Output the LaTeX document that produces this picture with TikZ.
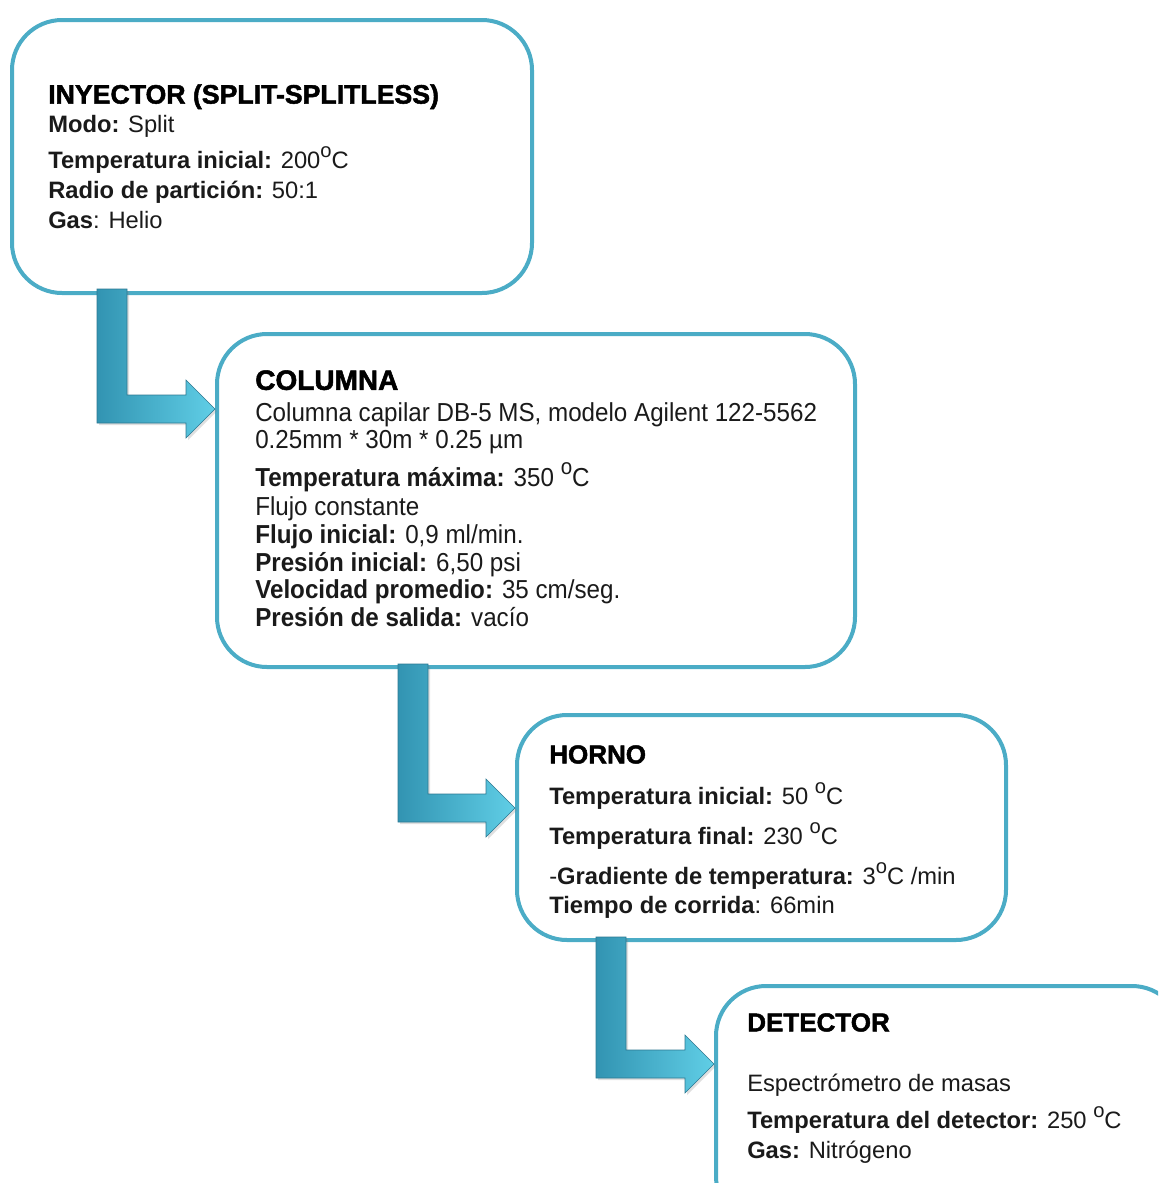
\documentclass[tikz,border=0pt]{standalone}
\usepackage{fontspec}
\setmainfont{Liberation Sans}
\newfontfamily\angosta[FakeStretch=0.93]{Liberation Sans}
\newfontfamily\titulo[FakeBold=1.8]{Liberation Sans Bold}
\usetikzlibrary{calc,shadows}
\definecolor{borde}{RGB}{75,172,198}
\definecolor{flechaosc}{RGB}{50,148,178}
\definecolor{flechacla}{RGB}{96,206,230}
\definecolor{flechalin}{RGB}{45,120,145}
\definecolor{tinta}{RGB}{26,26,26}
\newcommand{\grado}{\raisebox{0.47em}[0pt][0pt]{\scalebox{0.85}{o}}}

\begin{document}
\begin{tikzpicture}[x=0.75pt,y=0.75pt,yscale=-1,xscale=1,
  caja/.style={draw=borde,line width=3pt,rounded corners=37.5pt,fill=white,anchor=north west,inner sep=0pt},
  cabeza/.style={anchor=north west,inner sep=0pt,text=black,font=\titulo\fontsize{19.5}{23}\selectfont},
  cuerpo/.style={anchor=north west,inner sep=0pt,align=left,text=tinta},
  flecha/.style={left color=flechaosc,right color=flechacla,draw=flechalin,line width=0.4pt,
    drop shadow={shadow xshift=1.5pt,shadow yshift=-1.5pt,opacity=0.25}}]
\useasboundingbox (0,0) rectangle (1158,1183);
\clip (0,0) rectangle (1158,1183);

%Shape: Rounded Rectangle
\node[caja,minimum width=390pt,minimum height=204.75pt] (iny) at (10,18) {};
%Shape: Rounded Rectangle
\node[caja,minimum width=478.5pt,minimum height=249.75pt] (col) at (215,332) {};
%Shape: Rounded Rectangle
\node[caja,minimum width=366.75pt,minimum height=168.75pt] (hor) at (515,713) {};
%Shape: Rounded Rectangle
\node[caja,minimum width=349.5pt,minimum height=180pt] (det) at (714,984) {};

% Text Node
\node[cabeza,font=\titulo\fontsize{20}{24}\selectfont] (tiny) at ($(iny.north west)+(38,66)$) {INYECTOR (SPLIT-SPLITLESS)};
% Text Node
\node[cuerpo,font=\fontsize{17.8}{22.5}\selectfont] (biny) at ($(iny.north west)+(38,97)$) {\textbf{Modo:} Split\\[4.5pt]
\textbf{Temperatura inicial:} 200\grado C\\
\textbf{Radio de partición:} 50:1\\
\textbf{Gas}: Helio};

% Text Node
\node[cabeza,font=\titulo\fontsize{21}{25}\selectfont] (tcol) at ($(col.north west)+(40,38)$) {COLUMNA};
% Text Node
\node[cuerpo,font=\angosta\fontsize{19.5}{20.7}\selectfont] (bcol) at ($(col.north west)+(40,70)$) {Columna capilar DB-5 MS, modelo Agilent 122-5562\\
0.25mm * 30m * 0.25 µm\\[7.5pt]
\textbf{Temperatura máxima:} 350 \grado C\\[1.5pt]
Flujo constante\\
\textbf{Flujo inicial:} 0,9 ml/min.\\
\textbf{Presión inicial:} 6,50 psi\\
\textbf{Velocidad promedio:} 35 cm/seg.\\
\textbf{Presión de salida:} vacío};

% Text Node
\node[cabeza] (thor) at ($(hor.north west)+(34,32)$) {HORNO};
% Text Node
\node[cuerpo,font=\fontsize{17.8}{21.75}\selectfont] (bhor) at ($(hor.north west)+(34,74)$) {\textbf{Temperatura inicial:} 50 \grado C\\[8.25pt]
\textbf{Temperatura final:} 230 \grado C\\[8.25pt]
-\textbf{Gradiente de temperatura:} 3\grado C /min\\
\textbf{Tiempo de corrida}: 66min};

% Text Node
\node[cabeza] (tdet) at ($(det.north west)+(33,29)$) {DETECTOR};
% Text Node
\node[cuerpo,font=\fontsize{17.8}{22.5}\selectfont] (bdet) at ($(det.north west)+(33,90)$) {Espectrómetro de masas\\[5.25pt]
\textbf{Temperatura del detector:} 250 \grado C\\
\textbf{Gas:} Nitrógeno};

%Bent Arrows
\coordinate (s1) at ($(iny.south west)+(87,-6)$);
\coordinate (p1) at ($(col.north west)+(0,77)$);
\draw[flecha] (s1) -- ($(s1)+(30,0)$) -- ($(s1 |- p1)+(30,-14)$) -- ($(p1)+(-29,-14)$) -- ($(p1)+(-29,-29)$) -- (p1) -- ($(p1)+(-29,29)$) -- ($(p1)+(-29,14)$) -- ($(s1 |- p1)+(0,14)$) -- cycle;
\coordinate (s2) at ($(col.south west)+(183,-5)$);
\coordinate (p2) at ($(hor.north west)+(0,95)$);
\draw[flecha] (s2) -- ($(s2)+(30,0)$) -- ($(s2 |- p2)+(30,-14)$) -- ($(p2)+(-29,-14)$) -- ($(p2)+(-29,-29)$) -- (p2) -- ($(p2)+(-29,29)$) -- ($(p2)+(-29,14)$) -- ($(s2 |- p2)+(0,14)$) -- cycle;
\coordinate (s3) at ($(hor.south west)+(81,-5)$);
\coordinate (p3) at ($(det.north west)+(0,80)$);
\draw[flecha] (s3) -- ($(s3)+(30,0)$) -- ($(s3 |- p3)+(30,-14)$) -- ($(p3)+(-29,-14)$) -- ($(p3)+(-29,-29)$) -- (p3) -- ($(p3)+(-29,29)$) -- ($(p3)+(-29,14)$) -- ($(s3 |- p3)+(0,14)$) -- cycle;

\end{tikzpicture}
\end{document}
